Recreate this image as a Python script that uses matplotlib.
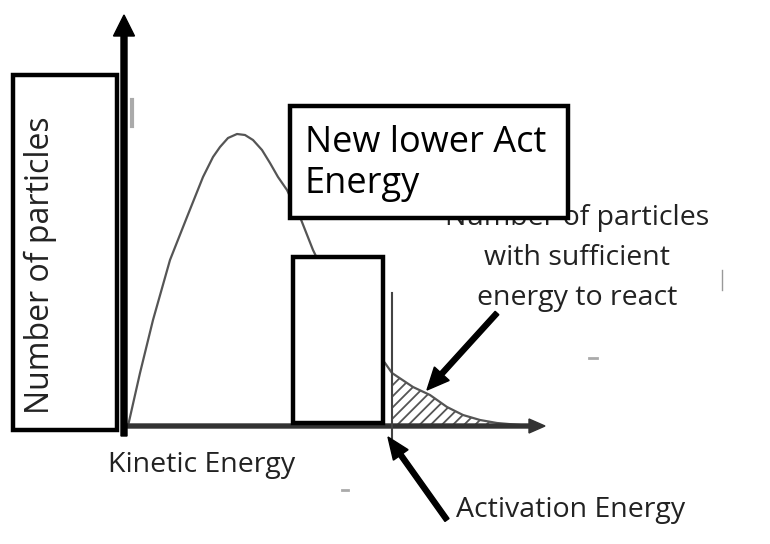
'''
Maxwell-Boltzmann style sketch: number of particles against kinetic energy,
with the activation energy marked and the tail shaded
'''

import matplotlib.pyplot as plt
import numpy as np
from matplotlib.patches import Rectangle

plt.rcParams['font.family'] = ['Open Sans', 'DejaVu Sans']
plt.rcParams['hatch.linewidth'] = 1.3

# distribution curve (energy, particles)
energy = np.array([4, 16, 29, 46, 63, 79, 89, 96, 104, 113, 121, 129, 138, 146,
                   154, 163, 176, 189, 206, 226, 244, 261, 268, 289, 306, 323,
                   339, 356, 373, 396])
particles = np.array([0, 53, 106, 166, 209, 249, 269, 279, 288, 292, 291, 286,
                      276, 263, 249, 236, 209, 176, 141, 108, 83, 63, 53, 39,
                      31, 19, 11, 6, 3, 1])
activation_energy = 268

ylabel = 'Number of particles'
xlabel = 'Kinetic Energy'
ea_label = 'Activation Energy'
tail_lines = ['Number of particles', 'with sufficient', 'energy to react']
new_ea_lines = ['New lower Act', 'Energy']

fig = plt.figure(figsize=(7.7, 5.44), dpi=100)
ax = fig.add_axes([0, 0, 1, 1])
ax.set_xlim(-124, 646)
ax.set_ylim(-118, 426)
ax.axis('off')

# curve and shaded tail
ax.plot(energy, particles, color='#555555', lw=1.6, solid_joinstyle='round', zorder=2)
tail = energy >= activation_energy
ax.fill_between(energy[tail], particles[tail], 0, facecolor='white',
                edgecolor='#555555', hatch='///', linewidth=0, zorder=1)

# axes arrows
ax.arrow(0, -10, 0, 421, width=6, head_width=21, head_length=21,
         length_includes_head=True, color='black', zorder=4)
ax.arrow(0, 0, 421, 0, width=4, head_width=14, head_length=16,
         length_includes_head=True, color='#333333', zorder=3)
ax.plot([8, 8], [300, 326], color='#444444', lw=3, alpha=0.45)

# activation energy line
ax.plot([activation_energy, activation_energy], [-12, 133], color='#444444', lw=1.5, zorder=3)

# pointer arrows
ax.arrow(373, 113, -70, -77, width=5, head_width=20, head_length=22,
         length_includes_head=True, color='black', zorder=5)
ax.arrow(323, -94, -59, 83, width=5, head_width=18, head_length=22,
         length_includes_head=True, color='black', zorder=5)

# text
for i, line in enumerate(tail_lines):
    ax.text(453, 201 - 40 * i, line, ha='center', va='baseline', fontsize=20.5,
            color='#222222', zorder=2)
ax.text(-16, -46, xlabel, ha='left', va='baseline', fontsize=20.5,
        color='#222222')
ax.text(332, -91, ea_label, ha='left', va='baseline', fontsize=20.5,
        color='#222222')

# boxes laid over the picture
boxes = [(-111, -4, 104, 355), (166, 208, 278, 112), (169, 3, 90, 166)]
for x0, y0, w, h in boxes:
    ax.add_patch(Rectangle((x0, y0), w, h, facecolor='white', edgecolor='black',
                           lw=3.2, zorder=6))
ax.text(-84, 161, ylabel, rotation=90, ha='center', va='center', fontsize=23,
        color='#222222', zorder=7)
for i, line in enumerate(new_ea_lines):
    ax.text(181, 274 - 41 * i, line, ha='left', va='baseline', fontsize=26,
            color='black', zorder=7)

# stray scan marks
ax.plot([598, 598], [136, 156], color='#999999', lw=1)
ax.plot([465, 473], [68, 68], color='#aaaaaa', lw=2)
ax.plot([218, 224], [-64, -64], color='#aaaaaa', lw=2)

plt.savefig('out.png', dpi=100)
plt.close()
